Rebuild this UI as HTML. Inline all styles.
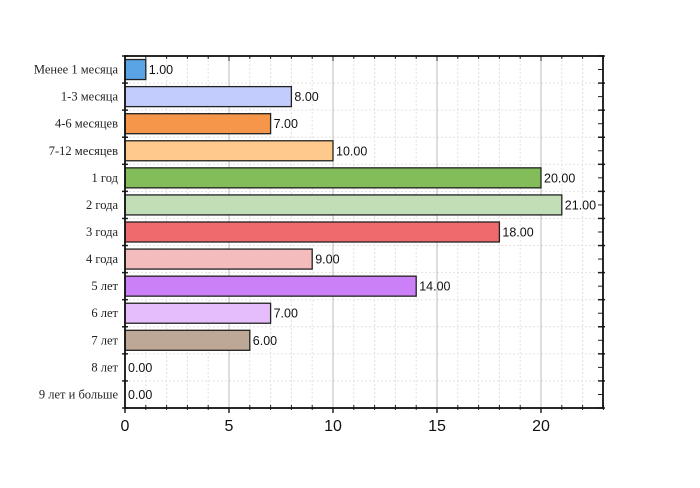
<!DOCTYPE html>
<html><head><meta charset="utf-8"><style>
html,body{margin:0;padding:0;background:#fff;width:700px;height:488px;overflow:hidden}
svg{display:block}
</style></head><body>
<svg id="s" width="700" height="488" xmlns="http://www.w3.org/2000/svg"></svg>
<script>
const L=125,R=603,T=56,B=408,u=20.8;
const cats=["Менее 1 месяца","1-3 месяца","4-6 месяцев","7-12 месяцев","1 год","2 года","3 года","4 года","5 лет","6 лет","7 лет","8 лет","9 лет и больше"];
const vals=[1,8,7,10,20,21,18,9,14,7,6,0,0];
const cols=["#5aa4e6","#c2cdfd","#f5964b","#fec98c","#82bd5a","#c1deb6","#ef6a6d","#f4bcbc","#cc80f7","#e5bdfc","#bda796","#ccc","#ccc"];
const rh=(B-T)/13;
let h="";
for(let i=1;i<23;i++){if(i%5)h+=`<line x1="${L+i*u}" y1="${T}" x2="${L+i*u}" y2="${B}" stroke="#e2e2e2" stroke-dasharray="2,2"/>`;}
for(let i=1;i<13;i++){h+=`<line x1="${L}" y1="${T+i*rh}" x2="${R}" y2="${T+i*rh}" stroke="#e2e2e2" stroke-dasharray="2,2"/>`;}
for(let i=5;i<23;i+=5)h+=`<line x1="${L+i*u}" y1="${T}" x2="${L+i*u}" y2="${B}" stroke="#bbb" stroke-width="1"/>`;
for(let i=0;i<13;i++){const c=T+i*rh+rh/2;
 if(vals[i]>0)h+=`<rect x="${L}" y="${c-10}" width="${vals[i]*u}" height="20" fill="${cols[i]}" stroke="#222" stroke-width="1.3"/>`;
 h+=`<text x="${L+vals[i]*u+3}" y="${c+4.5}" font-family="Liberation Sans,sans-serif" font-size="12.5" fill="#111">${vals[i].toFixed(2)}</text>`;
 h+=`<text x="${L-7}" y="${c+4}" text-anchor="end" font-family="Liberation Serif,serif" font-size="12.5" fill="#222">${cats[i]}</text>`;
 h+=`<line x1="${R-5}" y1="${c}" x2="${R}" y2="${c}" stroke="#222"/>`;
}
for(let i=0;i<=13;i++){const y=T+i*rh;h+=`<line x1="${L-3}" y1="${y}" x2="${L+3}" y2="${y}" stroke="#222" stroke-width="1.5"/><line x1="${R-5}" y1="${y}" x2="${R+2}" y2="${y}" stroke="#222" stroke-width="1.5"/>`;}
for(let i=0;i<=23;i++){const x=L+i*u;
 if(i%5==0){h+=`<line x1="${x}" y1="${B}" x2="${x}" y2="${B+5}" stroke="#222" stroke-width="1.5"/><text x="${x}" y="${B+23}" text-anchor="middle" font-family="Liberation Sans,sans-serif" font-size="16" fill="#111">${i}</text>`;}
 else h+=`<line x1="${x}" y1="${B-3}" x2="${x}" y2="${B+2}" stroke="#222"/>`;
 h+=`<line x1="${x}" y1="${T}" x2="${x}" y2="${T+(i%5==0?5:3)}" stroke="#222"/>`;
}
h+=`<rect x="${L}" y="${T}" width="${R-L}" height="${B-T}" fill="none" stroke="#111" stroke-width="1.8"/>`;
document.getElementById("s").innerHTML=h;
</script>
</body></html>
